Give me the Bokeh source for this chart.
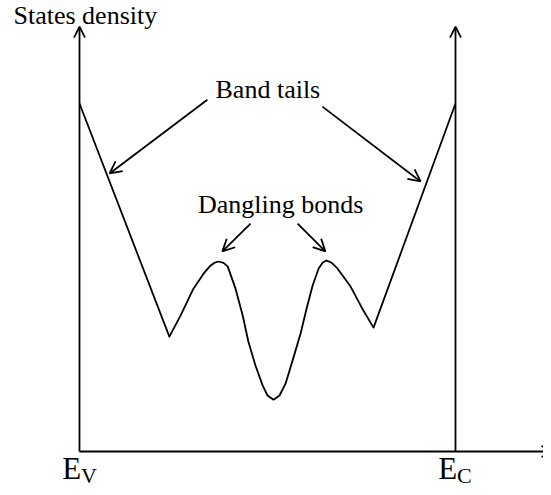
from bokeh.plotting import figure
from bokeh.models import Arrow, OpenHead, Label, Range1d
from bokeh.embed import file_html
from bokeh.resources import INLINE

# Energy position (E_V = 0, E_C = 100) and density of states (arbitrary units)
energy = [0.0, 23.9, 26.9, 30.3, 33.0, 34.8, 36.0, 37.0, 38.3, 39.4, 41.5, 43.4, 44.9, 46.8,
          48.7, 50.0, 51.6, 53.2, 54.8, 56.6, 58.8, 60.4, 62.0, 63.6, 64.7, 65.7, 67.0, 68.6,
          72.1, 75.5, 78.2, 100.0]
density = [100.0, 33.0, 39.1, 46.8, 51.1, 53.4, 54.3, 54.6, 54.2, 53.2, 46.8, 39.1, 31.6, 24.7,
           19.0, 16.1, 14.9, 16.1, 19.5, 25.9, 33.9, 41.1, 47.7, 52.6, 54.3, 54.9, 54.3, 52.6,
           47.4, 40.5, 35.6, 100.0]

band_edges = [0.0, 100.0]
edge_names = ["E", "E"]
edge_subs = ["V", "C"]
axis_title = "States density"
label_tails = "Band tails"
label_dangling = "Dangling bonds"

FONT = "Liberation Serif"

p = figure(width=543, height=487, output_backend="svg", toolbar_location=None,
           min_border=0, min_border_left=0, min_border_right=0,
           min_border_top=0, min_border_bottom=0)
p.x_range = Range1d(-21.01, 123.40)
p.y_range = Range1d(-10.34, 129.6)
p.axis.visible = False
p.grid.visible = False
p.outline_line_color = None
p.background_fill_color = "white"
p.border_fill_color = "white"

LW = 1.8

def arrow(x0, y0, x1, y1, size=11):
    p.add_layout(Arrow(end=OpenHead(size=size, line_width=LW, line_color="black"),
                       x_start=x0, y_start=y0, x_end=x1, y_end=y1,
                       line_width=LW, line_color="black"))

arrow(band_edges[0], 0, band_edges[0], 122.1)       # y axis at E_V
arrow(band_edges[1], 0, band_edges[1], 122.1)       # line at E_C
arrow(band_edges[0], 0, 125.8, 0)                    # energy axis

# Density of states curve
p.line(energy, density, line_color="black", line_width=LW, line_join="round")

# Pointer arrows
arrow(34.0, 101.1, 8.0, 79.9, size=12)
arrow(64.6, 99.1, 90.7, 77.6, size=12)
arrow(45.5, 65.5, 38.0, 57.5, size=12)
arrow(58.0, 65.5, 65.4, 57.5, size=12)

# Texts
p.add_layout(Label(x=-17.55, y=125.2, text=axis_title, text_font=FONT,
                   text_font_size="26px", text_baseline="alphabetic",
                   text_align="left", text_color="black"))
p.add_layout(Label(x=50.1, y=103.9, text=label_tails, text_font=FONT,
                   text_font_size="26px", text_baseline="alphabetic",
                   text_align="center", text_color="black"))
p.add_layout(Label(x=53.5, y=70.9, text=label_dangling, text_font=FONT,
                   text_font_size="26px", text_baseline="alphabetic",
                   text_align="center", text_color="black"))

for xe, name, sub in zip(band_edges, edge_names, edge_subs):
    p.add_layout(Label(x=xe - 4.6, y=-4.9, text=name, text_font=FONT,
                       text_font_size="31px", text_baseline="alphabetic",
                       text_align="left", text_color="black"))
    p.add_layout(Label(x=xe + 0.4, y=-7.0, text=sub, text_font=FONT,
                       text_font_size="22px", text_baseline="alphabetic",
                       text_align="left", text_color="black"))

open("out.html", "w").write(file_html(p, INLINE))
